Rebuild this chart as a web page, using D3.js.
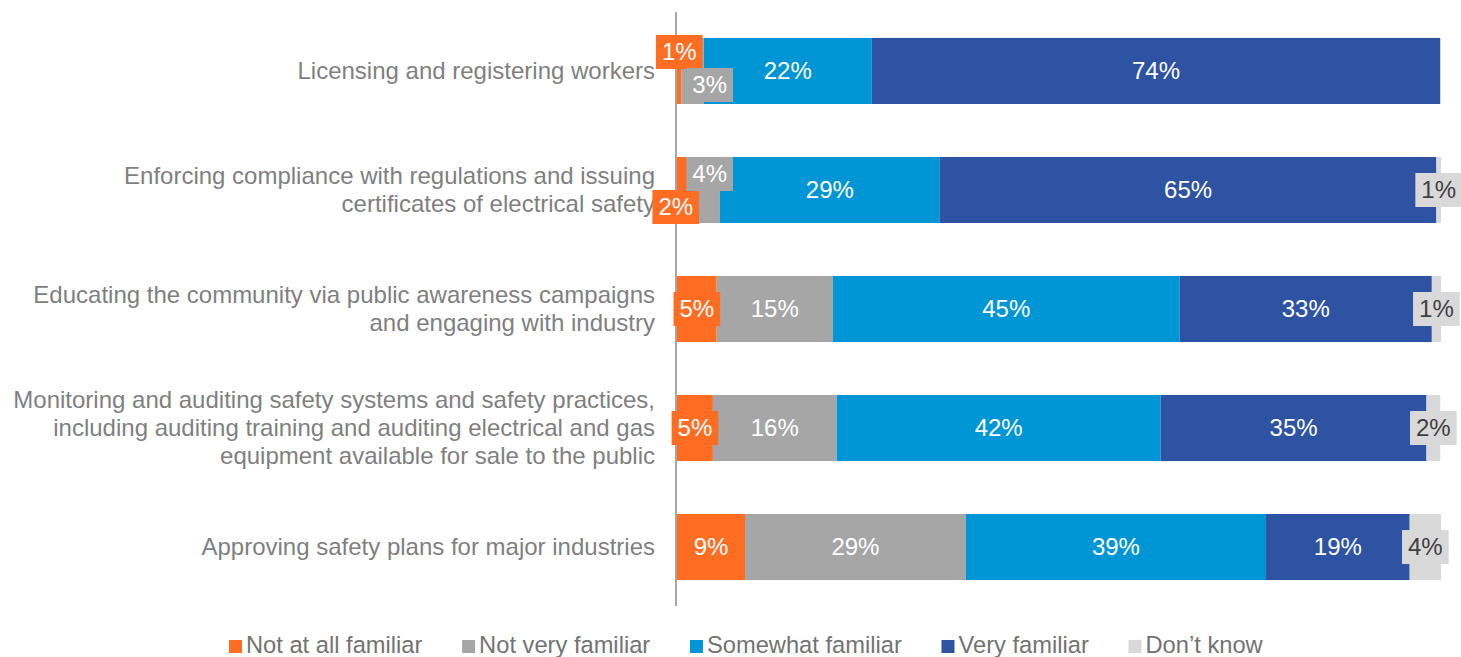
<!DOCTYPE html>
<html>
<head>
<meta charset="utf-8">
<script src="https://cdn.jsdelivr.net/npm/d3@7"></script>
<style>
  body { margin: 0; background: #fff; }
  svg { display: block; font-family: "Liberation Sans", Arial, sans-serif; }
</style>
</head>
<body>
<script>
const width = 1461;
const height = 657;

// rows, top to bottom (\n = line break in the label)
const categories = [
  "Licensing and registering workers",
  "Enforcing compliance with regulations and issuing\ncertificates of electrical safety",
  "Educating the community via public awareness campaigns\nand engaging with industry",
  "Monitoring and auditing safety systems and safety practices,\nincluding auditing training and auditing electrical and gas\nequipment available for sale to the public",
  "Approving safety plans for major industries"
];

const seriesNames = ["Not at all familiar", "Not very familiar", "Somewhat familiar", "Very familiar", "Don’t know"];
const seriesKeys = ["notAtAll", "notVery", "somewhat", "very", "dontKnow"];

// percent of respondents, per row
const notAtAll = [0.6, 1.5, 5.2, 4.7, 8.9];
const notVery  = [2.9, 4.1, 15.2, 16.2, 28.9];
const somewhat = [22.0, 28.8, 45.4, 42.4, 39.3];
const very     = [74.4, 65.0, 33.0, 34.8, 18.8];
const dontKnow = [0.0, 0.6, 1.2, 1.8, 4.1];

const colors = ["#ff6d22", "#a6a6a6", "#0096d6", "#2e53a3", "#d9d9d9"];
const labelColors = ["#fff", "#fff", "#fff", "#fff", "#404040"];

// callouts that would collide get nudged (row-key)
const nudge = {
  "0-notAtAll": [0, -19],
  "0-notVery": [17, 14],
  "1-notAtAll": [-7, 17],
  "1-notVery": [5.5, -16]
};

const table = categories.map((c, i) => ({
  category: c,
  notAtAll: notAtAll[i],
  notVery: notVery[i],
  somewhat: somewhat[i],
  very: very[i],
  dontKnow: dontKnow[i]
}));

const stacked = d3.stack().keys(seriesKeys)(table);

const x = d3.scaleLinear().domain([0, 100]).range([677, 1441]);
const y = d3.scaleBand()
  .domain(categories)
  .range([12, 606])
  .paddingInner(0.445)
  .paddingOuter(0.218);
const color = d3.scaleOrdinal().domain(seriesKeys).range(colors);
const textColor = d3.scaleOrdinal().domain(seriesKeys).range(labelColors);

const svg = d3.select('body').append('svg')
  .attr('width', width)
  .attr('height', height);

// category labels
const catLabels = svg.append('g')
  .selectAll('text')
  .data(categories)
  .enter().append('text')
    .attr('text-anchor', 'end')
    .attr('font-size', 24)
    .attr('fill', '#7f7f7f')
    .attr('transform', d => `translate(655,${y(d) + y.bandwidth() / 2})`);

catLabels.each(function(d) {
  const lines = d.split('\n');
  const lh = 28;
  d3.select(this).selectAll('tspan')
    .data(lines)
    .enter().append('tspan')
      .attr('x', 0)
      .attr('y', (l, j) => (j - (lines.length - 1) / 2) * lh)
      .attr('dy', '0.35em')
      .text(l => l);
});

// bars
const layers = svg.append('g')
  .selectAll('g')
  .data(stacked)
  .enter().append('g')
    .attr('fill', d => color(d.key));

layers.selectAll('rect')
  .data(d => d)
  .enter().append('rect')
    .attr('x', d => x(d[0]))
    .attr('y', d => y(d.data.category))
    .attr('width', d => x(d[1]) - x(d[0]))
    .attr('height', y.bandwidth());

// vertical axis line
svg.append('line')
  .attr('x1', 676).attr('x2', 676)
  .attr('y1', y.range()[0]).attr('y2', y.range()[1])
  .attr('stroke', '#a6a6a6')
  .attr('stroke-width', 2);

// value labels with background boxes
const labelData = [];
stacked.forEach(layer => {
  layer.forEach((d, i) => {
    const v = d[1] - d[0];
    if (v <= 0) return;
    const n = nudge[`${i}-${layer.key}`] || [0, 0];
    labelData.push({
      key: layer.key,
      text: `${Math.round(v)}%`,
      cx: (x(d[0]) + x(d[1])) / 2 + n[0],
      cy: y(d.data.category) + y.bandwidth() / 2 + n[1]
    });
  });
});

const labels = svg.append('g')
  .selectAll('g')
  .data(labelData)
  .enter().append('g')
    .attr('transform', d => `translate(${d.cx},${d.cy})`);

labels.append('rect')
  .attr('fill', d => color(d.key));

labels.append('text')
  .attr('text-anchor', 'middle')
  .attr('dy', '0.35em')
  .attr('font-size', 24)
  .attr('fill', d => textColor(d.key))
  .text(d => d.text);

labels.each(function() {
  const g = d3.select(this);
  const w = g.select('text').node().getComputedTextLength() + 12;
  const h = 34;
  g.select('rect')
    .attr('x', -w / 2).attr('y', -h / 2)
    .attr('width', w).attr('height', h);
});

// legend
const legend = svg.append('g').attr('transform', 'translate(229,0)');
let lx = 0;
seriesNames.forEach((name, i) => {
  const item = legend.append('g').attr('transform', `translate(${lx},0)`);
  item.append('rect')
    .attr('x', 0).attr('y', 640)
    .attr('width', 13).attr('height', 13)
    .attr('fill', colors[i]);
  const t = item.append('text')
    .attr('x', 17).attr('y', 653)
    .attr('font-size', 23.7)
    .attr('fill', '#737373')
    .text(name);
  lx += 17 + t.node().getComputedTextLength() + 39.7;
});
</script>
</body>
</html>
